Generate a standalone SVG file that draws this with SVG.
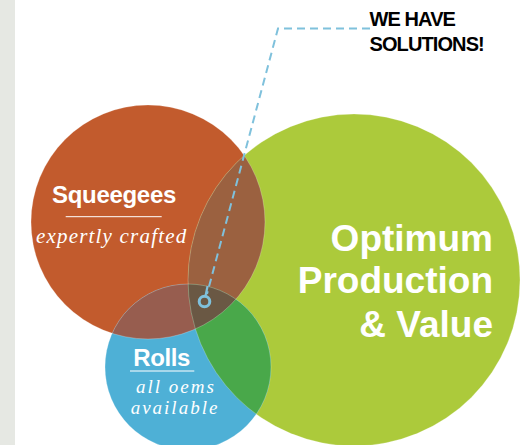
<svg xmlns="http://www.w3.org/2000/svg" width="523" height="445" viewBox="0 0 523 445">
<style>
.bold{font-family:"Liberation Sans",Arial,sans-serif;font-weight:bold;}
.ital{font-family:"Liberation Serif","Times New Roman",serif;font-style:italic;fill:#fff;}
.edge{fill:none;stroke:#fff;stroke-opacity:0.3;stroke-width:0.8;}
</style>
<defs>
<clipPath id="cRed"><circle cx="148" cy="222" r="117"/></clipPath>
<clipPath id="cGreen"><circle cx="354" cy="280" r="166"/></clipPath>
<clipPath id="cRG"><circle cx="354" cy="280" r="166" clip-path="url(#cRed)"/></clipPath>
</defs>
<rect x="0" y="0" width="523" height="445" fill="#fff"/>
<rect x="0" y="0" width="15" height="445" fill="#e6e8e3"/>
<g id="squeegees">
<circle cx="148" cy="222" r="117" fill="#c25b2d"/>
</g>
<g id="optimum">
<circle cx="354" cy="280" r="166" fill="#acca3b"/>
</g>
<g id="rolls">
<circle cx="188" cy="367" r="83" fill="#4eb0d6"/>
</g>
<g id="overlaps">
<circle cx="354" cy="280" r="166" fill="#9b6140" clip-path="url(#cRed)"/>
<circle cx="188" cy="367" r="83" fill="#975d4f" clip-path="url(#cRed)"/>
<circle cx="188" cy="367" r="83" fill="#49a84a" clip-path="url(#cGreen)"/>
<circle cx="188" cy="367" r="83" fill="#6a5844" clip-path="url(#cRG)"/>
<circle class="edge" cx="148" cy="222" r="117"/>
<circle class="edge" cx="354" cy="280" r="166"/>
<circle class="edge" cx="188" cy="367" r="83"/>
</g>
<g id="connectors">
<polyline points="370,28.5 278,28.5 207,294" fill="none" stroke="#7fc1dc" stroke-width="2" stroke-dasharray="8,5"/>
<line x1="207.6" y1="286" x2="205.5" y2="296" stroke="#7fc1dc" stroke-width="2.2"/>
<circle cx="204.5" cy="301.5" r="5.3" fill="none" stroke="#7fc1dc" stroke-width="3"/>
</g>
<g id="callout">
<text class="bold" x="369.5" y="26.3" font-size="20" fill="#000" letter-spacing="-0.9">WE HAVE</text>
<text class="bold" x="369.5" y="50.6" font-size="20" fill="#000" letter-spacing="-0.9">SOLUTIONS!</text>
</g>
<g id="squeegees-label">
<text class="bold" x="114" y="203.3" font-size="24" fill="#fff" text-anchor="middle" letter-spacing="-0.3">Squeegees</text>
<line x1="65.7" y1="216.7" x2="161.7" y2="216.7" stroke="#fff" stroke-width="1"/>
<text class="ital" x="111.7" y="242.7" font-size="21" text-anchor="middle" letter-spacing="1.2">expertly crafted</text>
</g>
<g id="rolls-label">
<text class="bold" x="161.7" y="365.7" font-size="24" fill="#fff" text-anchor="middle" letter-spacing="-0.4">Rolls</text>
<line x1="130" y1="371" x2="194.3" y2="371" stroke="#fff" stroke-width="1"/>
<text class="ital" x="176" y="392.5" font-size="19" text-anchor="middle" letter-spacing="2">all oems</text>
<text class="ital" x="175" y="413.6" font-size="19" text-anchor="middle" letter-spacing="2">available</text>
</g>
<g id="optimum-label">
<text class="bold" x="493" y="251.3" font-size="37" fill="#fff" text-anchor="end">Optimum</text>
<text class="bold" x="493" y="293.4" font-size="37" fill="#fff" text-anchor="end">Production</text>
<text class="bold" x="493" y="337.3" font-size="37" fill="#fff" text-anchor="end">&amp; Value</text>
</g>
</svg>
